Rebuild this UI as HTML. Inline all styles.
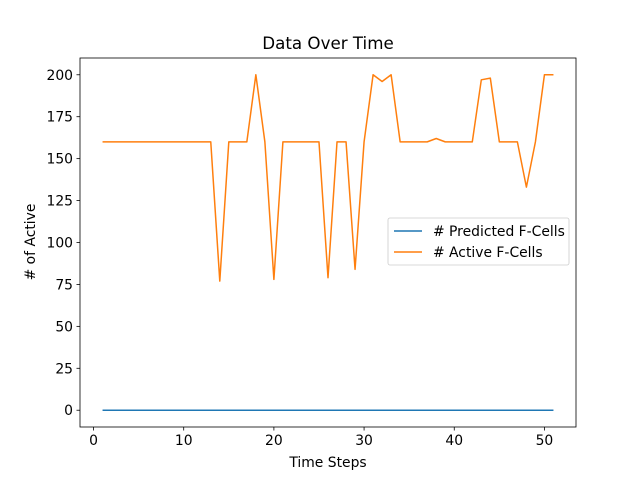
<!DOCTYPE html>
<html><head><meta charset="utf-8"><style>
body{margin:0;background:#fff;}
svg{display:block;font-family:"DejaVu Sans","Liberation Sans",sans-serif;}
</style></head><body>
<svg id="chart" width="640" height="480">
<rect x="0" y="0" width="640" height="480" fill="#fff"/>
<text x="328" y="49" font-size="16.7" text-anchor="middle">Data Over Time</text>
<g id="plot"></g>
<rect x="80" y="58" width="496" height="369" fill="none" stroke="#000" stroke-width="0.8"/>
<text x="328" y="467" font-size="13.9" text-anchor="middle">Time Steps</text>
<text transform="translate(35,242) rotate(-90)" font-size="13.9" text-anchor="middle"># of Active</text>
<g>
<rect x="388" y="218" width="181" height="47" rx="2" fill="#fff" fill-opacity="0.8" stroke="#ccc" stroke-width="0.8"/>
<line x1="394" y1="231" x2="422" y2="231" stroke="#1f77b4" stroke-width="1.5"/>
<text x="433" y="236" font-size="13.9"># Predicted F-Cells</text>
<line x1="394" y1="252" x2="422" y2="252" stroke="#ff7f0e" stroke-width="1.5"/>
<text x="433" y="257" font-size="13.9"># Active F-Cells</text>
</g>
</svg>
<script>
const xTicks=[0,10,20,30,40,50];
const yTicks=[0,25,50,75,100,125,150,175,200];
const steps=[1,2,3,4,5,6,7,8,9,10,11,12,13,14,15,16,17,18,19,20,21,22,23,24,25,26,27,28,29,30,31,32,33,34,35,36,37,38,39,40,41,42,43,44,45,46,47,48,49,50,51];
const predicted=[0,0,0,0,0,0,0,0,0,0,0,0,0,0,0,0,0,0,0,0,0,0,0,0,0,0,0,0,0,0,0,0,0,0,0,0,0,0,0,0,0,0,0,0,0,0,0,0,0,0,0];
const active=[160,160,160,160,160,160,160,160,160,160,160,160,160,77,160,160,160,200,160,78,160,160,160,160,160,79,160,160,84,160,200,196,200,160,160,160,160,162,160,160,160,160,197,198,160,160,160,133,160,200,200];
const L=80,R=576,T=58,B=427;
const xMin=-1.5,xMax=53.5,yMin=-10,yMax=210;
const sx=v=>L+(v-xMin)/(xMax-xMin)*(R-L);
const sy=v=>B-(v-yMin)/(yMax-yMin)*(B-T);
const g=document.getElementById('plot');
const NS='http://www.w3.org/2000/svg';
function mk(t,a){const e=document.createElementNS(NS,t);for(const k in a)e.setAttribute(k,a[k]);g.appendChild(e);return e;}
xTicks.forEach(v=>{
 const l=mk('line',{x1:sx(v),x2:sx(v),y1:B,y2:B+3.5,stroke:'#000','stroke-width':0.8});
 
 
 const t=mk('text',{x:sx(v),y:B+18,'font-size':13.9,'text-anchor':'middle'});t.textContent=v;
 
 
});
yTicks.forEach(v=>{
 const l=mk('line',{x1:L-3.5,x2:L,y1:sy(v),y2:sy(v),stroke:'#000','stroke-width':0.8});
 
 
 const t=mk('text',{x:L-7,y:sy(v)+5,'font-size':13.9,'text-anchor':'end'});t.textContent=v;
 
 
});
function line(vals,color,name){
 const p=mk('polyline',{points:steps.map((s,i)=>sx(s)+','+sy(vals[i])).join(' '),fill:'none',stroke:color,'stroke-width':1.5,'stroke-linejoin':'round'});
 
 
}
line(predicted,'#1f77b4','predicted-f-cells-line');
line(active,'#ff7f0e','active-f-cells-line');
</script>
</body></html>
